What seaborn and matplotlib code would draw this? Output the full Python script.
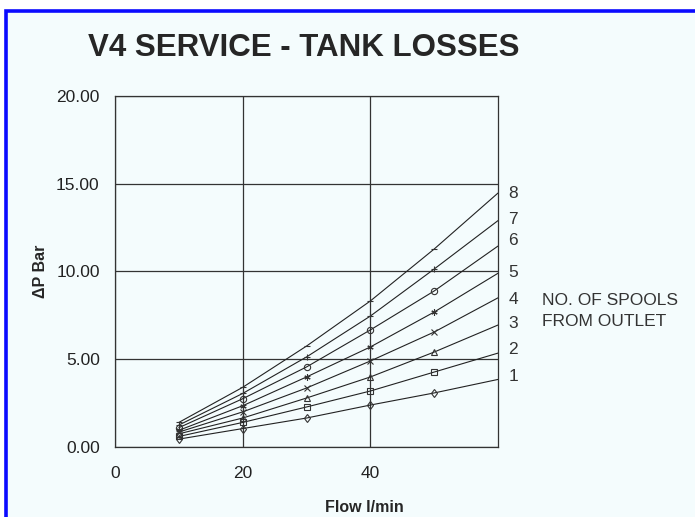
import numpy as np
import pandas as pd
import matplotlib
matplotlib.use('Agg')
import matplotlib.pyplot as plt
import seaborn as sns
from matplotlib.patches import Rectangle

# flow points with markers, plus where the trend lines end
flow = [10, 20, 30, 40, 50]
flow_end = 60

spools = ['1', '2', '3', '4', '5', '6', '7', '8']
dp_1 = [0.45, 1.05, 1.65, 2.39, 3.08]
dp_2 = [0.60, 1.40, 2.28, 3.19, 4.27]
dp_3 = [0.75, 1.65, 2.79, 3.99, 5.41]
dp_4 = [0.85, 2.00, 3.36, 4.90, 6.55]
dp_5 = [0.95, 2.35, 3.99, 5.70, 7.69]
dp_6 = [1.10, 2.75, 4.56, 6.67, 8.89]
dp_7 = [1.25, 3.05, 5.13, 7.46, 10.14]
dp_8 = [1.40, 3.40, 5.75, 8.32, 11.28]
dp_end = [3.85, 5.35, 6.95, 8.50, 9.90, 11.45, 12.90, 14.47]
label_y = [3.99, 5.53, 7.01, 8.43, 9.92, 11.74, 12.94, 14.47]

markers = ['d', 's', '^', 'x', (6, 2, 0), 'o', '+', '_']

series = [dp_1, dp_2, dp_3, dp_4, dp_5, dp_6, dp_7, dp_8]
rows = []
for name, vals, end in zip(spools, series, dp_end):
    for f, v in zip(flow, vals):
        rows.append({'spools': name, 'flow': f, 'dp': v})
    rows.append({'spools': name, 'flow': flow_end, 'dp': end})
df = pd.DataFrame(rows)

bg = '#f4fcfd'
sns.set_style('white')
plt.rcParams['font.family'] = ['Liberation Sans', 'DejaVu Sans']

fig = plt.figure(figsize=(6.95, 5.17), dpi=100)
fig.patch.set_facecolor('white')
fig.add_artist(Rectangle((6 / 695, -0.1), 1.2, 1.1 - 10.7 / 517,
                         transform=fig.transFigure, facecolor=bg,
                         edgecolor='#0a0aff', linewidth=2.6, zorder=0))

ax = fig.add_axes([115 / 695, 70 / 517, 383 / 695, 351 / 517])
ax.set_facecolor(bg)

sns.lineplot(data=df, x='flow', y='dp', units='spools', estimator=None,
             color='#222222', linewidth=0.8, ax=ax, legend=False, zorder=3)

for name, vals, m in zip(spools, series, markers):
    ax.plot(flow, vals, linestyle='none', marker=m, markersize=4.5,
            markerfacecolor='none', markeredgecolor='#333333',
            markeredgewidth=0.8, zorder=4)

ax.set_xlim(0, 60)
ax.set_ylim(0, 20)
ax.set_xticks([0, 20, 40])
ax.set_yticks([0, 5, 10, 15, 20])
ax.set_yticklabels([f'{v:.2f}' for v in [0, 5, 10, 15, 20]])
ax.grid(True, color='#333333', linewidth=0.9)
ax.set_axisbelow(True)
for s in ax.spines.values():
    s.set_visible(True)
    s.set_color('#333333')
    s.set_linewidth(0.9)
ax.tick_params(axis='both', direction='out', length=4, width=0.9,
               color='#333333', labelsize=12.5, labelcolor='#222222')
ax.tick_params(axis='x', pad=10)
ax.tick_params(axis='y', pad=7)

ax.set_xlabel('Flow l/min', fontsize=11.5, fontweight='bold')
ax.xaxis.set_label_coords(0.65, -0.15)
ax.set_ylabel('ΔP Bar', fontsize=11.5, fontweight='bold', labelpad=6)

for name, y in zip(spools, label_y):
    ax.text(62.4, y, name, fontsize=12.5, color='#333333',
            ha='center', va='center', clip_on=False)
ax.text(66.9, 7.75, 'NO. OF SPOOLS\nFROM OUTLET', fontsize=12.5,
        color='#333333', ha='left', va='center', linespacing=1.5,
        clip_on=False)

fig.text(304 / 695, 1 - 48 / 517, 'V4 SERVICE - TANK LOSSES',
         fontsize=22.5, fontweight='bold', ha='center', va='center')

fig.savefig('out.png', dpi=100, facecolor=fig.get_facecolor())
